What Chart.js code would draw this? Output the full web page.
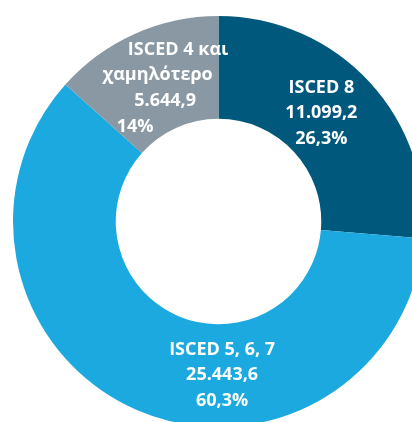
<!DOCTYPE html>
<html>
<head>
<meta charset="utf-8">
<script src="https://cdn.jsdelivr.net/npm/chart.js@4"></script>
<style>
    html, body { margin: 0; padding: 0; background: #fff; overflow: hidden; width: 412px; height: 422px; }
    #eduChart { position: absolute; left: 13px; top: 16px; }
</style>
</head>
<body>
<canvas id="eduChart" width="411" height="411"></canvas>
<script>
// slices, clockwise from the top
const categories = [["ISCED 8"], ["ISCED 5, 6, 7"], ["ISCED 4 και", "χαμηλότερο"]];
const values = [11099.2, 25443.6, 5644.9];
const percentLabels = ["26,3%", "60,3%", "14%"];
const colors = ["#01587d", "#1ba9df", "#8998a2"];

// where each label block sits, relative to the slice's centre point
const labelLayout = [
    { dx: [-10.5], dy: -24.5 },
    { dx: [64.5], dy: -8.5 },
    { dx: [22.5, 2, 9.5, -20.5], dy: -26 }
];
const lineHeight = 25.7;

// 11099.2 -> "11.099,2"
const formatValue = (v) => {
    let parts = v.toFixed(1).split(".");
    let intPart = parts[0].replace(/\B(?=(\d{3})+(?!\d))/g, ".");
    return intPart + "," + parts[1];
};

const sliceLabels = {
    id: "sliceLabels",
    afterDatasetsDraw(chart) {
        const ctx = chart.ctx;
        const arcs = chart.getDatasetMeta(0).data;
        ctx.save();
        ctx.fillStyle = "#ffffff";
        ctx.font = "bold 18px 'Open Sans'";
        ctx.textAlign = "center";
        ctx.textBaseline = "alphabetic";
        arcs.forEach((arc, i) => {
            const pos = arc.tooltipPosition();
            const lines = [...categories[i], formatValue(values[i]), percentLabels[i]];
            const layout = labelLayout[i];
            lines.forEach((line, j) => {
                const dx = layout.dx[Math.min(j, layout.dx.length - 1)];
                ctx.fillText(line, pos.x + dx, pos.y + layout.dy + j * lineHeight);
            });
        });
        ctx.restore();
    }
};

const data = {
    labels: categories.map(c => c.join(" ")),
    datasets: [
        {
            data: values,
            backgroundColor: colors,
            borderWidth: 0
        }
    ]
};

const config = {
    type: "doughnut",
    data,
    options: {
        responsive: false,
        animation: false,
        cutout: "50%",
        layout: { padding: 0 },
        plugins: {
            legend: { display: false },
            tooltip: { enabled: false }
        }
    },
    plugins: [sliceLabels]
};

var myChart = new Chart(document.getElementById("eduChart"), config);
</script>
</body>
</html>
